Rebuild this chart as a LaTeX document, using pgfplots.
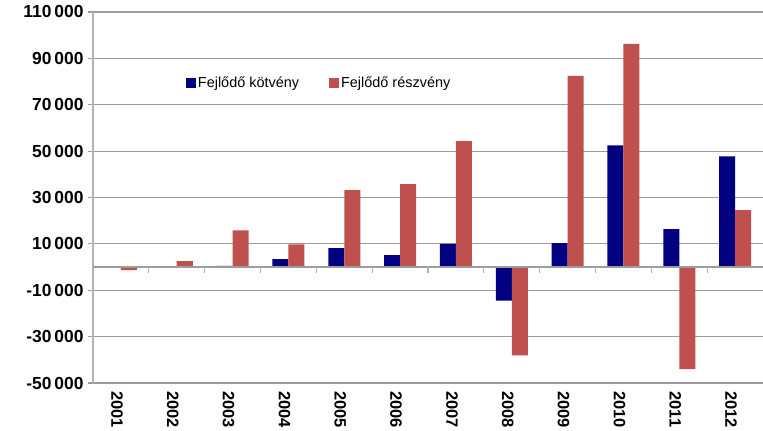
\documentclass[border=0pt]{standalone}
\usepackage{pgfplots}
\pgfplotsset{compat=1.18}
\usepackage{fontspec}
\setmainfont{Liberation Sans}
\definecolor{kotv}{HTML}{000080}
\definecolor{reszv}{HTML}{C0504D}
\definecolor{gridc}{HTML}{9C9C9C}
\definecolor{axisc}{HTML}{B4B4B4}

\begin{document}
\begin{tikzpicture}
\useasboundingbox (-93bp,-48bp) rectangle (670bp,383bp);
\begin{axis}[
    at={(0,0)}, anchor=south west,
    scale only axis, width=670bp, height=371bp,
    xmin=-0.5, xmax=11.5,
    ymin=-50000, ymax=110000,
    ytick={-50000,-30000,...,110000},
    xtick={0,...,11},
    xticklabels={2001,2002,2003,2004,2005,2006,2007,2008,2009,2010,2011,2012},
    axis y line*=left, axis x line*=bottom,
    x axis line style={draw=none},
    y axis line style={axisc, line width=1.2bp},
    xtick style={draw=none},
    ytick style={gridc, line width=1.2bp},
    tick align=outside, major tick length=5bp,
    ymajorgrids=true,
    major grid style={gridc, line width=1.2bp},
    scaled y ticks=false,
    yticklabel={\pgfmathprintnumber[fixed, precision=0, 1000 sep={\,}, assume math mode=true]{\tick}},
    yticklabel style={font=\bfseries\fontsize{17.5}{19}\selectfont, xshift=-1bp},
    xticklabel style={font=\bfseries\fontsize{16.5}{18}\selectfont, rotate=-90, anchor=west, yshift=-4bp},
    ybar=0pt, bar width=16bp,
    legend style={at={(rel axis cs:0.134,0.809)}, anchor=west, draw=none, fill=none,
        font=\fontsize{14.5}{16}\selectfont, legend columns=2,
        /tikz/every even column/.append style={column sep=28bp}},
    legend image code/.code={\fill[#1] (0bp,-5bp) rectangle (10bp,5bp);},
]
\addplot[fill=kotv, draw=none] coordinates {
(0,0) (1,0) (2,500) (3,3400) (4,8200) (5,5200)
(6,10000) (7,-14500) (8,10300) (9,52500) (10,16400) (11,47700)};
\addplot[fill=reszv, draw=none] coordinates {
(0,-1300) (1,2600) (2,15800) (3,9800) (4,33200) (5,35800)
(6,54300) (7,-38100) (8,82400) (9,96300) (10,-44000) (11,24600)};
\legend{Fejlődő kötvény, Fejlődő részvény}
\draw[gridc, line width=1.2bp] (axis cs:-0.5,0) -- (axis cs:11.5,0);
\pgfplotsinvokeforeach{0.5,1.5,2.5,3.5,4.5,5.5,6.5,7.5,8.5,9.5,10.5}{
  \draw[axisc, line width=1.2bp] (axis cs:#1,0) -- (axis cs:#1,-2600);
}
\end{axis}
\end{tikzpicture}
\end{document}
